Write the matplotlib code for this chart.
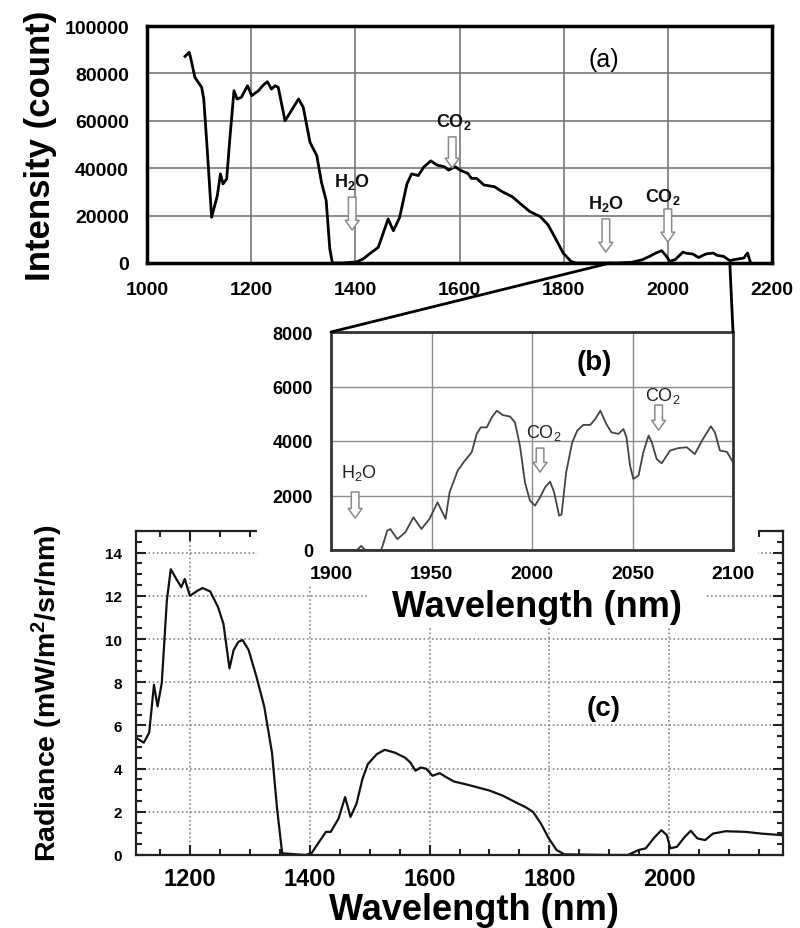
import matplotlib
matplotlib.use('Agg')
import matplotlib.pyplot as plt
from matplotlib.patches import Rectangle, ConnectionPatch
from matplotlib.ticker import MultipleLocator

plt.rcParams['font.family'] = ['Liberation Sans', 'DejaVu Sans']
plt.rcParams['mathtext.default'] = 'regular'

# ---------------- data ----------------
# (a) measured intensity (count)
a_wl = [1073, 1081, 1084, 1092, 1105, 1109, 1116, 1124, 1135, 1141, 1146, 1153, 1159, 1167, 1173,
        1181, 1193, 1201, 1214, 1223, 1231, 1239, 1246, 1252, 1265, 1291, 1300, 1313, 1326, 1335,
        1344, 1351, 1356, 1376, 1403, 1415, 1431, 1444, 1463, 1473, 1485, 1499, 1508, 1521, 1531,
        1545, 1557, 1571, 1579, 1592, 1601, 1616, 1623, 1633, 1647, 1667, 1682, 1701, 1716, 1735,
        1755, 1770, 1784, 1799, 1814, 1823, 1860, 1900, 1931, 1951, 1965, 1975, 1988, 1995, 2004,
        2014, 2029, 2036, 2048, 2059, 2073, 2087, 2095, 2107, 2119, 2127, 2146, 2153, 2158]
a_int = [87200, 88900, 86400, 78300, 74100, 69200, 46700, 19300, 28400, 37600, 33400, 35500, 52300, 72700, 69200,
         69900, 74800, 70600, 72700, 75000, 76500, 73400, 74800, 74100, 60000, 69200, 65700, 50900, 45300, 34000,
         26400, 5900, 0, 0, 500, 1700, 4500, 6600, 18600, 13600, 19200, 33300, 37600, 36900, 40400,
         43100, 41300, 40600, 39200, 40600, 39200, 37800, 35700, 35700, 32900, 32200, 30100, 28000, 25200, 21700,
         19600, 16100, 10500, 4200, 700, 0, 0, 0, 300, 1400, 2800, 4000, 5200, 3500, 700,
         1400, 4600, 4100, 3800, 2300, 3800, 4200, 3200, 2800, 1000, 1400, 2100, 4200, 700]
a_xticks = [1000, 1200, 1400, 1600, 1800, 2000, 2200]
a_yticks = [0, 20000, 40000, 60000, 80000, 100000]

# (b) zoom 1900-2100 nm
b_wl = [1900, 1913, 1915, 1917, 1925, 1928, 1929.5, 1933, 1937, 1941, 1945, 1949, 1953, 1957, 1959,
        1963, 1966, 1970, 1972.5, 1974.5, 1977.5, 1980, 1982.5, 1985.5, 1989, 1991.5, 1994, 1996.5, 1999, 2001.5,
        2004, 2006.5, 2009, 2011, 2013.5, 2014.7, 2017, 2020, 2022.5, 2025.5, 2029, 2031.5, 2034, 2037, 2039.5,
        2043, 2045.5, 2047, 2048.8, 2050.4, 2053, 2055.4, 2058, 2059.6, 2062, 2064.5, 2068.7, 2072.8, 2077, 2081,
        2085, 2089, 2091, 2093.5, 2097, 2100]
b_int = [0, 0, 150, 0, 0, 710, 770, 400, 650, 1200, 770, 1140, 1750, 1140, 2120,
         2910, 3220, 3590, 4260, 4500, 4500, 4870, 5110, 4950, 4900, 4690, 3830, 2480, 1810, 1630,
         1930, 2300, 2510, 2120, 1260, 1300, 2850, 3950, 4380, 4590, 4590, 4810, 5110, 4620, 4320,
         4260, 4440, 4140, 3090, 2610, 2730, 3590, 4200, 3950, 3340, 3180, 3650, 3740, 3770, 3520,
         4070, 4540, 4320, 3650, 3600, 3220]
b_xticks = [1900, 1950, 2000, 2050, 2100]
b_yticks = [0, 2000, 4000, 6000, 8000]

# (c) radiance
c_wl = [1110, 1123, 1132, 1140, 1146, 1153, 1161.5, 1168, 1179, 1185.5, 1191.4, 1200, 1213, 1221, 1234,
        1247, 1256, 1266, 1273, 1281, 1288, 1298, 1311, 1324, 1337, 1345.5, 1354, 1392.5, 1403, 1414,
        1427, 1435, 1448, 1459, 1468, 1478, 1488, 1497, 1512, 1525, 1542, 1559, 1568, 1576.5, 1585,
        1594, 1605, 1617, 1628, 1641, 1658, 1679, 1700.5, 1722, 1743, 1760, 1773, 1786, 1799, 1812,
        1825, 1900, 1931, 1949, 1961, 1974, 1987, 1996, 2002, 2013, 2026, 2036, 2047, 2060, 2073,
        2094, 2128, 2154, 2188]
c_rad = [5.43, 5.2, 5.66, 7.88, 6.88, 7.96, 11.78, 13.23, 12.7, 12.4, 12.78, 12.0, 12.24, 12.36, 12.2,
         11.47, 10.7, 8.64, 9.49, 9.87, 9.95, 9.49, 8.26, 6.88, 4.74, 2.14, 0.08, 0, 0.08, 0.54,
         1.07, 1.07, 1.68, 2.68, 1.76, 2.37, 3.52, 4.21, 4.67, 4.87, 4.74, 4.51, 4.28, 3.9, 4.05,
         4.0, 3.67, 3.79, 3.6, 3.4, 3.29, 3.14, 2.98, 2.75, 2.45, 2.22, 1.99, 1.45, 0.77, 0.23,
         0.03, 0, 0, 0.23, 0.31, 0.77, 1.15, 0.92, 0.31, 0.38, 0.84, 1.12, 0.77, 0.69, 0.99,
         1.10, 1.07, 0.99, 0.92]
c_xticks = [1200, 1400, 1600, 1800, 2000]
c_yticks = [0, 2, 4, 6, 8, 10, 12, 14]

# absorption markers: (label, arrow x, arrow top, arrow bottom, text x, text y)
a_gas = [('H$_2$O', 1394, 27800, 13900, 1394, 34600),
         ('CO$_2$', 1586, 53200, 40100, 1590, 60000),
         ('H$_2$O', 1881, 18600, 4600, 1881, 25300),
         ('CO$_2$', 2000, 22800, 8900, 1990, 28300)]
b_gas = [('H$_2$O', 1912, 2130, 1170, 1914, 2860),
         ('CO$_2$', 2004, 3740, 2860, 2006, 4330),
         ('CO$_2$', 2063, 5320, 4400, 2065, 5690)]

# ---------------- layout ----------------
W, H = 800, 929
fig = plt.figure(figsize=(8, 9.29), dpi=100)


def box(x0, y0, x1, y1):
    return [x0 / W, 1 - y1 / H, (x1 - x0) / W, (y1 - y0) / H]


def gas_arrow(ax, item, fs, weight, color):
    label, x, ytop, ybot, xt, yt = item
    ax.annotate('', xy=(x, ybot), xytext=(x, ytop),
                arrowprops=dict(arrowstyle='simple,head_length=0.7,head_width=1.0,tail_width=0.55',
                                fc='white', ec='#8a8a8a', lw=1.1, mutation_scale=10,
                                shrinkA=0, shrinkB=0), zorder=4)
    ax.text(xt, yt, label, ha='center', va='center', fontsize=fs, fontweight=weight,
            color=color, zorder=4)


# ---- panel (c) ----
axc = fig.add_axes(box(136, 532, 783, 856))
axc.plot(c_wl, c_rad, color='#111111', lw=1.6)
axc.set_xlim(1110, 2190)
axc.set_ylim(0, 15)
axc.set_xticks(c_xticks)
axc.set_yticks(c_yticks)
axc.xaxis.set_minor_locator(MultipleLocator(50))
axc.yaxis.set_minor_locator(MultipleLocator(0.5))
axc.tick_params(which='both', direction='in', top=True, right=True, width=1.5, color='#222222')
axc.tick_params(which='major', length=7)
axc.tick_params(which='minor', length=4)
axc.tick_params(axis='x', labelsize=17, pad=9)
axc.tick_params(axis='y', labelsize=11, pad=10)
for t in axc.get_xticklabels() + axc.get_yticklabels():
    t.set_fontweight('bold')
axc.grid(True, which='major', linestyle=(0, (1, 1.5)), color='#888888', lw=1.2)
axc.set_axisbelow(True)
for s in axc.spines.values():
    s.set_linewidth(1.6)
    s.set_color('#222222')
lx = axc.set_xlabel('Wavelength (nm)', fontsize=26, fontweight='bold')
lx.set_va('center')
axc.xaxis.set_label_coords(0.522, -0.167)
ly = axc.set_ylabel('Radiance (mW/m$^2$/sr/nm)', fontsize=20.5, fontweight='bold')
ly.set_va('center')
axc.yaxis.set_label_coords(-0.1376, 0.503)
axc.text(1890, 6.8, '(c)', fontsize=20, fontweight='bold', ha='center', va='center')

# white cover where inset (b) was pasted over (c)
fig.add_artist(Rectangle((257 / W, 1 - 586 / H), (758 - 257) / W, (586 - 520) / H,
                         transform=fig.transFigure, facecolor='white', edgecolor='none', zorder=1))
fig.add_artist(Rectangle((368 / W, 1 - 627 / H), (706 - 368) / W, (627 - 520) / H,
                         transform=fig.transFigure, facecolor='white', edgecolor='none', zorder=1))

# ---- panel (b) ----
axb = fig.add_axes(box(331, 333, 733, 551))
axb.set_zorder(2)
axb.set_facecolor('white')
axb.plot(b_wl, b_int, color='#444444', lw=1.3)
axb.set_xlim(1900, 2100)
axb.set_ylim(0, 8000)
axb.set_xticks(b_xticks)
axb.set_yticks(b_yticks)
axb.tick_params(length=0)
axb.tick_params(axis='x', labelsize=14, pad=11)
axb.tick_params(axis='y', labelsize=13, pad=13)
for t in axb.get_xticklabels() + axb.get_yticklabels():
    t.set_fontweight('bold')
axb.grid(True, color='#8c8c8c', lw=1.0)
axb.set_axisbelow(True)
for s in axb.spines.values():
    s.set_linewidth(2)
    s.set_color('#333333')
lbx = axb.set_xlabel('Wavelength (nm)', fontsize=26, fontweight='bold')
lbx.set_va('center')
axb.xaxis.set_label_coords(0.512, -0.257)
axb.text(2031, 6900, '(b)', fontsize=20, fontweight='bold', ha='center', va='center')
for g in b_gas:
    gas_arrow(axb, g, 13, 'normal', '#222222')

# ---- panel (a) ----
axa = fig.add_axes(box(147, 27, 772, 264))
axa.set_zorder(3)
axa.plot(a_wl, a_int, color='black', lw=2)
axa.set_xlim(1000, 2200)
axa.set_ylim(0, 100000)
axa.set_xticks(a_xticks)
axa.set_yticks(a_yticks)
axa.tick_params(length=0, labelsize=14, pad=13)
for t in axa.get_xticklabels() + axa.get_yticklabels():
    t.set_fontweight('bold')
axa.grid(True, color='#777777', lw=1.2)
axa.set_axisbelow(True)
for s in axa.spines.values():
    s.set_linewidth(2.5)
    s.set_color('black')
lay = axa.set_ylabel('Intensity (count)', fontsize=25, fontweight='bold')
lay.set_va('center')
axa.yaxis.set_label_coords(-0.171, 0.5)
axa.text(1878, 86200, '(a)', fontsize=18, ha='center', va='center')
for g in a_gas:
    gas_arrow(axa, g, 13, 'bold', '#111111')

# connectors from (a) to the inset (b)
con1 = ConnectionPatch(xyA=(1889, 0), coordsA=axa.transData, xyB=(1900, 8000), coordsB=axb.transData,
                       color='black', lw=2, zorder=5)
con2 = ConnectionPatch(xyA=(2119, 0), coordsA=axa.transData, xyB=(2100, 8000), coordsB=axb.transData,
                       color='black', lw=2, zorder=5)
fig.add_artist(con1)
fig.add_artist(con2)

fig.savefig('out.png', dpi=100)
